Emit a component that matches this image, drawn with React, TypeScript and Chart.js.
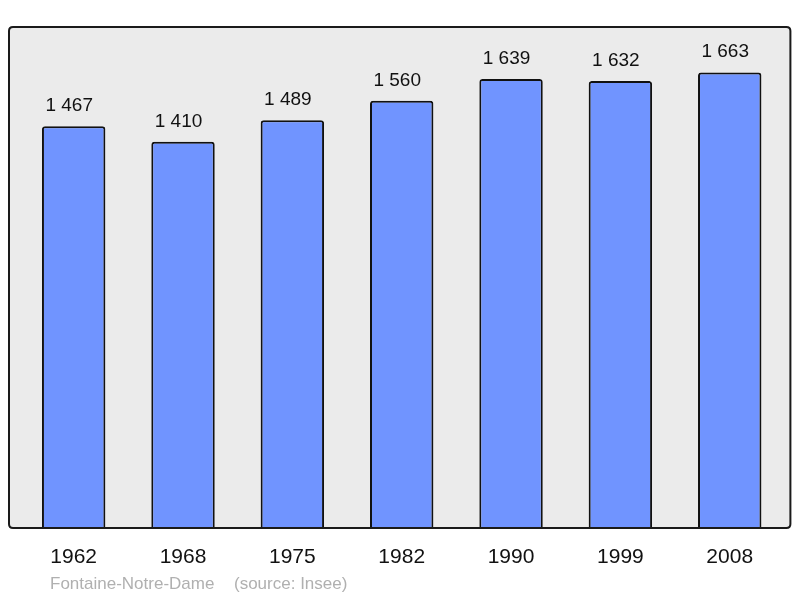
import React, { useEffect, useRef } from "react";
import { Chart, registerables } from "chart.js";

Chart.register(...registerables);

const years = ["1962", "1968", "1975", "1982", "1990", "1999", "2008"];
const population = [1467, 1410, 1489, 1560, 1639, 1632, 1663];
const valueLabels = ["1 467", "1 410", "1 489", "1 560", "1 639", "1 632", "1 663"];
const captionName = "Fontaine-Notre-Dame";
const captionSource = "(source: Insee)";

const FONT = "'Liberation Sans', Arial, sans-serif";

function roundRect(ctx: CanvasRenderingContext2D, x: number, y: number, w: number, h: number, r: number) {
  ctx.beginPath();
  ctx.moveTo(x + r, y);
  ctx.lineTo(x + w - r, y);
  ctx.quadraticCurveTo(x + w, y, x + w, y + r);
  ctx.lineTo(x + w, y + h - r);
  ctx.quadraticCurveTo(x + w, y + h, x + w - r, y + h);
  ctx.lineTo(x + r, y + h);
  ctx.quadraticCurveTo(x, y + h, x, y + h - r);
  ctx.lineTo(x, y + r);
  ctx.quadraticCurveTo(x, y, x + r, y);
  ctx.closePath();
}

function framePath(chart: any) {
  const { ctx, chartArea } = chart;
  const x0 = chartArea.left - 10;
  const x1 = chartArea.right + 6;
  roundRect(ctx, x0, chartArea.top, x1 - x0, chartArea.bottom - chartArea.top, 4);
}

const framePlugin = {
  id: "frame",
  beforeDatasetsDraw(chart: any) {
    const { ctx } = chart;
    ctx.save();
    framePath(chart);
    ctx.fillStyle = "#ebebeb";
    ctx.fill();
    ctx.restore();
  },
  afterDatasetsDraw(chart: any) {
    const { ctx, chartArea } = chart;
    ctx.save();
    framePath(chart);
    ctx.strokeStyle = "#1a1a1a";
    ctx.lineWidth = 2;
    ctx.stroke();
    const meta = chart.getDatasetMeta(0);
    ctx.fillStyle = "#111";
    ctx.font = `19px ${FONT}`;
    ctx.textAlign = "center";
    ctx.textBaseline = "alphabetic";
    meta.data.forEach((bar: any, i: number) => {
      ctx.fillText(valueLabels[i], bar.x - 4.5, bar.y - 15);
    });
    ctx.fillStyle = "#b0b0b0";
    ctx.font = `17px ${FONT}`;
    ctx.textAlign = "left";
    ctx.fillText(captionName, chartArea.left + 31, 589);
    ctx.fillText(captionSource, chartArea.left + 215, 589);
    ctx.restore();
  },
};

export default function App() {
  const ref = useRef<HTMLCanvasElement>(null);
  useEffect(() => {
    document.body.style.margin = "0";
    const chart = new Chart(ref.current!, {
      type: "bar",
      data: {
        labels: years,
        datasets: [
          {
            data: population,
            backgroundColor: "#7094ff",
            borderColor: "#111",
            borderWidth: 2,
            borderSkipped: "bottom",
            borderRadius: { topLeft: 3, topRight: 3, bottomLeft: 0, bottomRight: 0 },
            barPercentage: 0.58,
            categoryPercentage: 1,
          },
        ],
      },
      options: {
        animation: false,
        responsive: false,
        maintainAspectRatio: false,
        layout: { padding: { left: 19, right: 15.6, top: 27, bottom: 28 } },
        plugins: { legend: { display: false }, tooltip: { enabled: false } },
        scales: {
          x: {
            grid: { display: false, drawTicks: false },
            border: { display: false },
            ticks: { color: "#111", font: { family: FONT, size: 21 }, padding: 17 },
            afterFit: (scale: any) => {
              scale.height = 42;
            },
          },
          y: {
            display: false,
            min: 0,
            max: 1829,
          },
        },
      },
      plugins: [framePlugin],
    });
    return () => chart.destroy();
  }, []);
  return <canvas ref={ref} width={800} height={598} style={{ display: "block" }} />;
}
